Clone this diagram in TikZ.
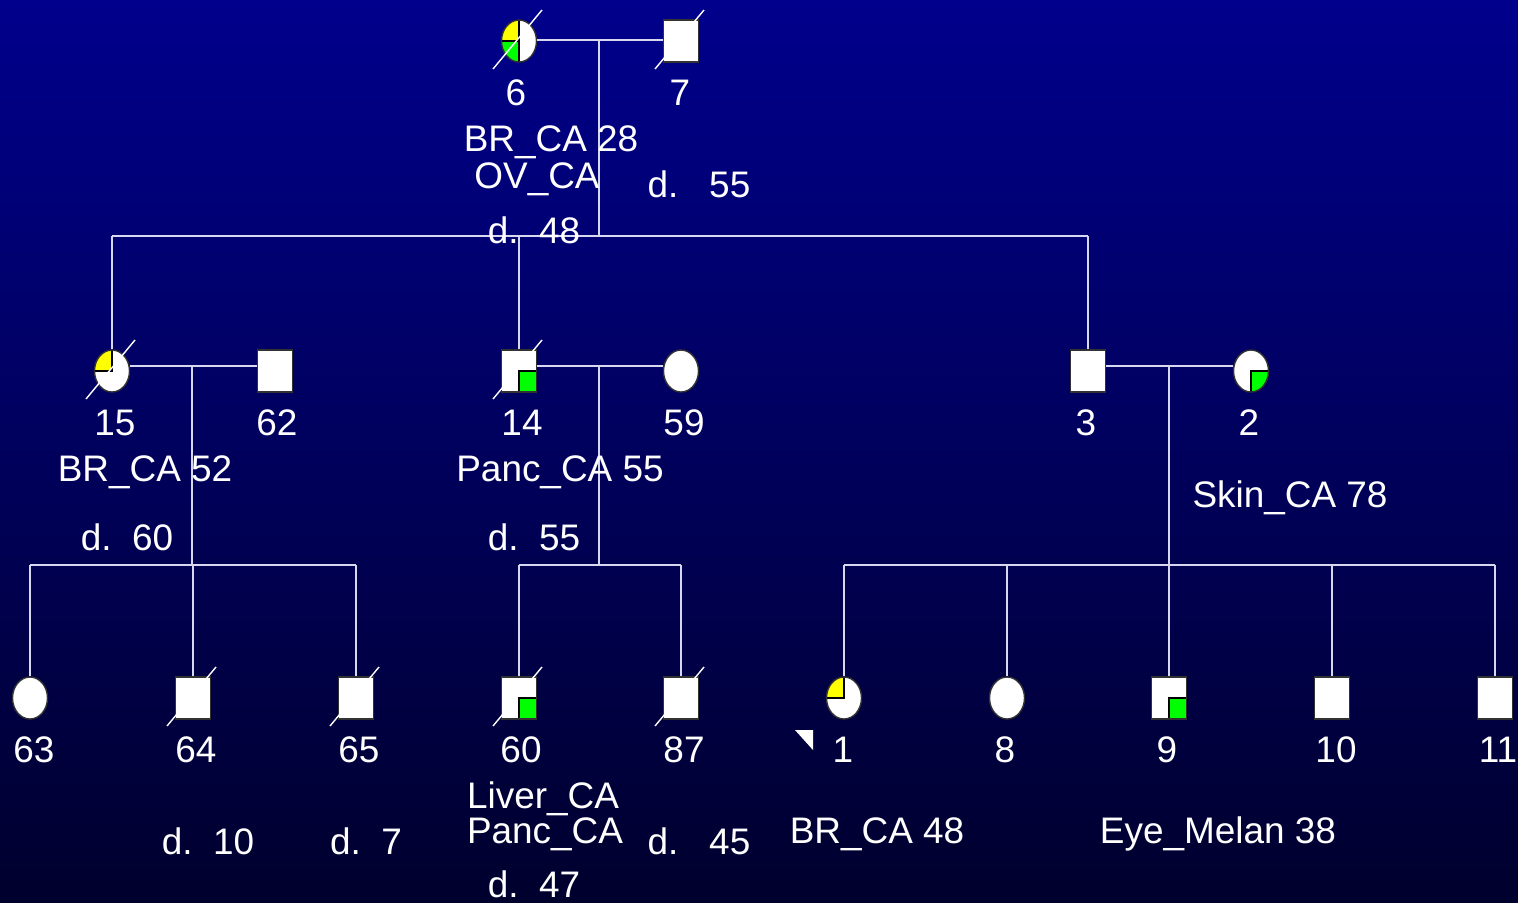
\documentclass[tikz,border=0pt]{standalone}
\usepackage{fontspec}
\setmainfont{Liberation Sans}
\usetikzlibrary{shapes.geometric}
\definecolor{bgtop}{RGB}{0,0,140}
\definecolor{bgbot}{RGB}{0,0,45}
\definecolor{pedline}{RGB}{215,215,240}
\definecolor{symline}{RGB}{50,50,50}
\definecolor{affgreen}{RGB}{0,255,0}
\definecolor{affyellow}{RGB}{255,255,0}
\tikzset{
  male/.style={draw=symline,fill=white,minimum width=0.35cm,minimum height=0.42cm,inner sep=0pt},
  female/.style={male,ellipse},
  brca/.style={path picture={\filldraw[fill=affyellow,draw=black] (path picture bounding box.north west) rectangle (path picture bounding box.center);}},
  gica/.style={path picture={\filldraw[fill=affgreen,draw=black] (path picture bounding box.south east) rectangle (path picture bounding box.center);}},
  lbl/.style={text=white,anchor=base,inner sep=0pt,font=\fontsize{10.5}{12}\selectfont},
  ped/.style={draw=pedline,line width=0.45pt},
  dead/.style={draw=white,line width=0.4pt},
}
\newcommand{\deceased}[1]{\draw[dead] ([shift={(-26,28)}]#1.center) -- ([shift={(23,-31)}]#1.center);}
\begin{document}
\begin{tikzpicture}[x=0.01cm,y=-0.01cm]
  \useasboundingbox (0,0) rectangle (1518,902);
  \fill[top color=bgtop,bottom color=bgbot] (0,0) rectangle (1518,902);
  % first generation
  \node[female,path picture={
      \filldraw[fill=affyellow,draw=black] (path picture bounding box.north west) rectangle (path picture bounding box.center);
      \filldraw[fill=affgreen,draw=black] (path picture bounding box.south west) rectangle (path picture bounding box.center);
      \draw[black] (path picture bounding box.north) -- (path picture bounding box.south);}] (n6) at (519,41) {};
  \node[male] (n7) at (681,41) {};
  % second generation
  \node[female,brca] (n15) at (112,371) {};
  \node[male] (n62) at (275,371) {};
  \node[male,gica] (n14) at (519,371) {};
  \node[female] (n59) at (681,371) {};
  \node[male] (n3) at (1088,371) {};
  \node[female,gica] (n2) at (1251,371) {};
  % third generation
  \node[female] (n63) at (30,698) {};
  \node[male] (n64) at (193,698) {};
  \node[male] (n65) at (356,698) {};
  \node[male,gica] (n60) at (519,698) {};
  \node[male] (n87) at (681,698) {};
  \node[female,brca] (n1) at (844,698) {};
  \node[female] (n8) at (1007,698) {};
  \node[male,gica] (n9) at (1169,698) {};
  \node[male] (n10) at (1332,698) {};
  \node[male] (n11) at (1495,698) {};
  % marriages and sibships
  \coordinate (m6) at (599,40);
  \coordinate (s6) at (599,236);
  \draw[ped] (n6.east |- m6) -- (n7.west |- m6);
  \draw[ped] (m6) -- (s6);
  \draw[ped] (n15 |- s6) -- (n3 |- s6);
  \draw[ped] (n15 |- s6) -- (n15.north);
  \draw[ped] (n14 |- s6) -- (n14.north);
  \draw[ped] (n3 |- s6) -- (n3.north);
  \coordinate (m15) at (192,366);
  \coordinate (s15) at (192,565);
  \draw[ped] (n15.east |- m15) -- (n62.west |- m15);
  \draw[ped] (m15) -- (s15);
  \draw[ped] (n63 |- s15) -- (n65 |- s15);
  \draw[ped] (n63 |- s15) -- (n63.north);
  \draw[ped] (n64 |- s15) -- (n64.north);
  \draw[ped] (n65 |- s15) -- (n65.north);
  \coordinate (m14) at (599,366);
  \coordinate (s14) at (599,565);
  \draw[ped] (n14.east |- m14) -- (n59.west |- m14);
  \draw[ped] (m14) -- (s14);
  \draw[ped] (n60 |- s14) -- (n87 |- s14);
  \draw[ped] (n60 |- s14) -- (n60.north);
  \draw[ped] (n87 |- s14) -- (n87.north);
  \coordinate (m3) at (1169,366);
  \coordinate (s3) at (1169,565);
  \draw[ped] (n3.east |- m3) -- (n2.west |- m3);
  \draw[ped] (m3) -- (s3);
  \draw[ped] (n1 |- s3) -- (n11 |- s3);
  \draw[ped] (n1 |- s3) -- (n1.north);
  \draw[ped] (n8 |- s3) -- (n8.north);
  \draw[ped] (n9 |- s3) -- (n9.north);
  \draw[ped] (n10 |- s3) -- (n10.north);
  \draw[ped] (n11 |- s3) -- (n11.north);
  % deceased
  \deceased{n6}
  \deceased{n7}
  \deceased{n15}
  \deceased{n14}
  \deceased{n64}
  \deceased{n65}
  \deceased{n60}
  \deceased{n87}
  % proband
  \fill[white] ([shift={(-49,32)}]n1.center) -- ([shift={(-31,32)}]n1.center) -- ([shift={(-31,52)}]n1.center) -- cycle;
  % labels
  \node[lbl] (l6) at (516,105) {6};
  \node[lbl] (l7) at (680,105) {7};
  \node[lbl] (t6a) at (551,151) {BR\_CA 28};
  \node[lbl] (t6b) at (537,188) {OV\_CA};
  \node[lbl] (t6c) at (534,243) {d.\ \ 48};
  \node[lbl] (t7) at (699,197) {d.\ \ \ 55};
  \node[lbl] (l15) at (115,435) {15};
  \node[lbl] (l62) at (277,435) {62};
  \node[lbl] (l14) at (522,435) {14};
  \node[lbl] (l59) at (684,435) {59};
  \node[lbl] (l3) at (1086,435) {3};
  \node[lbl] (l2) at (1249,435) {2};
  \node[lbl] (t15a) at (145,481) {BR\_CA 52};
  \node[lbl] (t15b) at (127,550) {d.\ \ 60};
  \node[lbl] (t14a) at (560,481) {Panc\_CA 55};
  \node[lbl] (t14b) at (534,550) {d.\ \ 55};
  \node[lbl] (t2) at (1290,507) {Skin\_CA 78};
  \node[lbl] (l63) at (34,762) {63};
  \node[lbl] (l64) at (196,762) {64};
  \node[lbl] (l65) at (359,762) {65};
  \node[lbl] (l60) at (521,762) {60};
  \node[lbl] (l87) at (684,762) {87};
  \node[lbl] (l1) at (843,762) {1};
  \node[lbl] (l8) at (1005,762) {8};
  \node[lbl] (l9) at (1167,762) {9};
  \node[lbl] (l10) at (1336,762) {10};
  \node[lbl] (l11) at (1498,762) {11};
  \node[lbl] (t64) at (208,854) {d.\ \ 10};
  \node[lbl] (t65) at (366,854) {d.\ \ 7};
  \node[lbl] (t60a) at (543,808) {Liver\_CA};
  \node[lbl] (t60b) at (545,843) {Panc\_CA};
  \node[lbl] (t60c) at (534,897) {d.\ \ 47};
  \node[lbl] (t87) at (699,854) {d.\ \ \ 45};
  \node[lbl] (t1) at (877,843) {BR\_CA 48};
  \node[lbl] (t9) at (1218,843) {Eye\_Melan 38};
\end{tikzpicture}
\end{document}
